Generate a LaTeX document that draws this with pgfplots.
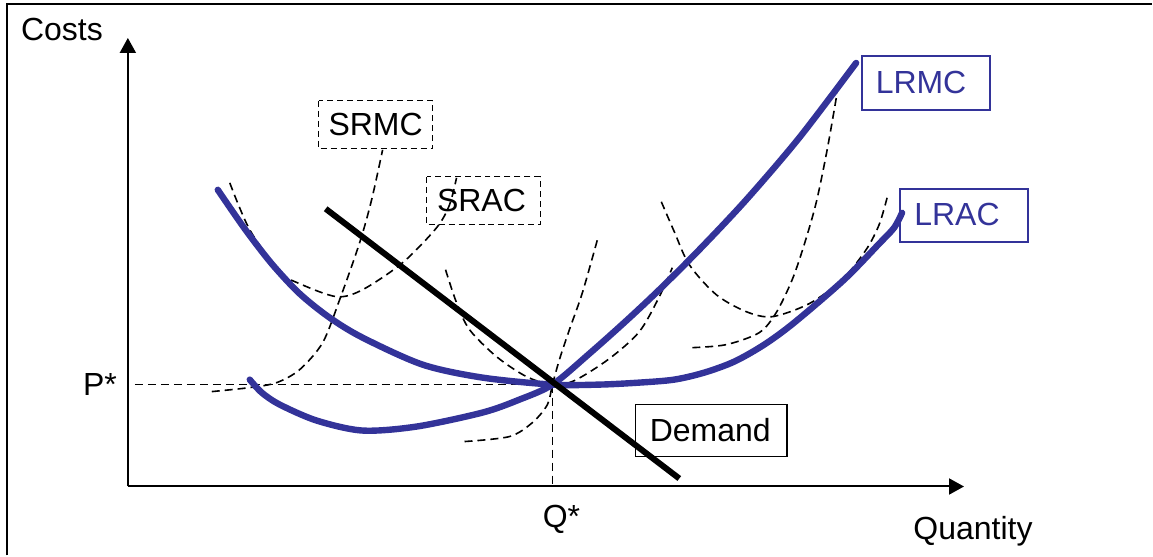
\documentclass[border=0pt]{standalone}
\usepackage{pgfplots}
\pgfplotsset{compat=1.18}
\usepackage{fontspec}
\setmainfont{Liberation Sans}
\usetikzlibrary{arrows.meta}
\definecolor{lrblue}{RGB}{51,51,153}
\begin{document}
\begin{tikzpicture}
\begin{axis}[
  scale only axis, width=418.5pt, height=224.5pt,
  xmin=128, xmax=965, ymin=69, ymax=518,
  axis lines=left, ticks=none,
  x axis line style={line width=1pt, -{Triangle[length=7.5pt,width=8pt]}},
  y axis line style={line width=1pt, -{Triangle[length=7.5pt,width=8pt]}},
  clip=false,
]
% bounding box and frame
\path (0,0) rectangle (1153,556);
\draw[line width=1.2pt] (7,0) -- (7,552) -- (1153,552);

% guide lines P*, Q*
\addplot[black, line width=0.8pt, dash pattern=on 4pt off 2.5pt] coordinates {(135,171) (553,171)};
\addplot[black, line width=0.8pt, dash pattern=on 4pt off 2.5pt] coordinates {(553,171) (553,69)};

% short-run curves
\addplot[black, line width=0.8pt, dash pattern=on 4pt off 2.5pt, smooth] coordinates {
(230,373) (250,326) (280,284) (300,272) (337,259) (363,266) (403,293) (437,328) (450,351) (457,378)};
\addplot[black, line width=0.8pt, dash pattern=on 4pt off 2.5pt, smooth] coordinates {
(212,164) (250,168) (277,173) (300,186) (323,213) (340,256) (360,313) (372,356) (383,406)};
\addplot[black, line width=0.8pt, dash pattern=on 4pt off 2.5pt, smooth] coordinates {
(446,286) (457,253) (470,226) (497,199) (527,179) (553,171) (575,175) (610,197) (640,224) (660,259) (673,288)};
\addplot[black, line width=0.8pt, dash pattern=on 4pt off 2.5pt, smooth] coordinates {
(465,114) (510,119) (533,133) (548,151) (553,171) (560,196) (570,226) (583,263) (598,316)};
\addplot[black, line width=0.8pt, dash pattern=on 4pt off 2.5pt, smooth] coordinates {
(662,354) (675,324) (690,291) (717,261) (747,244) (773,239) (810,252) (843,276) (867,306) (880,331) (888,358)};
\addplot[black, line width=0.8pt, dash pattern=on 4pt off 2.5pt, smooth] coordinates {
(693,208) (727,211) (760,223) (777,243) (793,276) (805,311) (817,353) (828,406) (838,463)};

% long-run curves
\addplot[lrblue, line width=3.2pt, smooth, line cap=round] coordinates {
(218,366) (245,327) (272,292) (300,262) (330,238) (363,218) (423,191) (483,178) (553,171)
(600,171) (640,173) (675,176) (705,183) (735,194) (765,211) (795,233) (845,276) (880,312) (895,328) (903,343)};
\addplot[lrblue, line width=3.2pt, smooth, line cap=round] coordinates {
(250,176) (262,163) (280,151) (317,135) (363,125) (417,129) (483,143) (520,156) (553,171)
(590,202) (627,235) (660,266) (700,306) (747,356) (800,418) (857,493)};

% demand
\addplot[black, line width=3pt] coordinates {(326,347) (680,77)};

% boxes and labels
\draw[line width=0.6pt, dash pattern=on 3pt off 2pt] (319,455) rectangle (433,407);
\node[font=\fontsize{16}{19}\selectfont] at (376,431) {SRMC};
\draw[line width=0.6pt, dash pattern=on 3pt off 2pt] (427,379) rectangle (541,331);
\node[font=\fontsize{16}{19}\selectfont] at (482,355) {SRAC};
\draw[lrblue, line width=0.9pt] (863,500) rectangle (991,446);
\node[lrblue, font=\fontsize{16}{19}\selectfont] at (922,473) {LRMC};
\draw[lrblue, line width=0.9pt] (901,367) rectangle (1029,314);
\node[lrblue, font=\fontsize{16}{19}\selectfont] at (958,341) {LRAC};
\draw[black, line width=0.8pt] (636,151) rectangle (788,99);
\node[font=\fontsize{16}{19}\selectfont] at (711,125) {Demand};

\node[font=\fontsize{16}{19}\selectfont] at (62,526) {Costs};
\node[font=\fontsize{16}{19}\selectfont] at (100,171) {P*};
\node[font=\fontsize{16}{19}\selectfont] at (562,36) {Q*};
\node[font=\fontsize{16}{19}\selectfont] at (974,24) {Quantity};
\end{axis}
\end{tikzpicture}
\end{document}
